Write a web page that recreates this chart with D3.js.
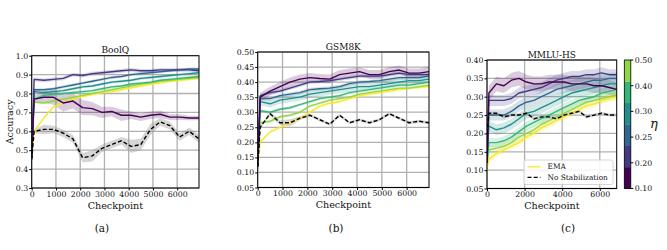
<!DOCTYPE html>
<html><head><meta charset="utf-8">
<script src="https://cdn.jsdelivr.net/npm/d3@7"></script>
<style>body{margin:0;background:#fff}svg{display:block}text{font-family:"DejaVu Serif",serif;fill:#111}</style>
</head><body><svg id="c" width="667" height="250"></svg>
<script>
const checkpoints = [0,100,500,900,1300,1700,2100,2500,2900,3300,3700,4100,4500,4900,5300,5700,6100,6500,6900];
const etaLabels = ["0.10","0.20","0.25","0.30","0.40","0.50"];
const etaColors = ["#440154","#433a83","#31688e","#21908c","#35b779","#8fd744"];
const emaColor = "#fde725";

// BoolQ
const boolqEta = [
  [0.46,0.77,0.78,0.78,0.75,0.76,0.725,0.72,0.70,0.705,0.685,0.685,0.675,0.685,0.69,0.675,0.675,0.67,0.67],
  [0.46,0.875,0.87,0.875,0.88,0.90,0.895,0.905,0.91,0.915,0.92,0.925,0.92,0.92,0.925,0.925,0.925,0.925,0.92],
  [0.46,0.82,0.82,0.825,0.835,0.845,0.855,0.865,0.875,0.885,0.89,0.90,0.905,0.91,0.915,0.92,0.925,0.93,0.93],
  [0.46,0.81,0.805,0.81,0.815,0.825,0.835,0.84,0.85,0.86,0.865,0.87,0.88,0.885,0.89,0.895,0.90,0.905,0.91],
  [0.46,0.77,0.79,0.795,0.80,0.805,0.81,0.815,0.825,0.835,0.84,0.85,0.855,0.86,0.87,0.875,0.88,0.885,0.89],
  [0.46,0.755,0.75,0.76,0.77,0.78,0.79,0.80,0.81,0.82,0.83,0.84,0.85,0.855,0.865,0.87,0.875,0.88,0.885]
];
const boolqEma = [0.46,0.60,0.67,0.73,0.75,0.77,0.785,0.795,0.805,0.81,0.82,0.83,0.84,0.85,0.855,0.865,0.87,0.875,0.88];
const boolqNone = [0.45,0.60,0.61,0.61,0.59,0.56,0.46,0.47,0.51,0.53,0.55,0.52,0.53,0.61,0.65,0.63,0.57,0.60,0.56];
const boolqEtaBand = [
  [0,0.02,0.03,0.04,0.045,0.04,0.04,0.035,0.03,0.025,0.03,0.02,0.02,0.02,0.02,0.015,0.015,0.012,0.012],
  0.01,0.008,0.008,0.008,0.008
];
const boolqEmaBand = 0.008;
const boolqNoneBand = [0,0.01,0.025,0.02,0.02,0.02,0.025,0.03,0.02,0.02,0.02,0.035,0.03,0.03,0.02,0.02,0.02,0.02,0.02];

// GSM8K
const gsmEta = [
  [0.12,0.35,0.37,0.385,0.40,0.41,0.415,0.412,0.41,0.425,0.43,0.435,0.425,0.425,0.435,0.44,0.43,0.43,0.435],
  [0.12,0.355,0.365,0.37,0.38,0.39,0.40,0.402,0.405,0.41,0.415,0.42,0.42,0.42,0.425,0.43,0.425,0.425,0.425],
  [0.12,0.345,0.345,0.355,0.36,0.365,0.375,0.378,0.38,0.385,0.395,0.40,0.402,0.405,0.41,0.415,0.415,0.415,0.42],
  [0.12,0.335,0.328,0.34,0.345,0.35,0.36,0.365,0.37,0.375,0.38,0.385,0.385,0.39,0.395,0.40,0.405,0.405,0.41],
  [0.12,0.305,0.30,0.31,0.315,0.325,0.335,0.345,0.35,0.355,0.365,0.37,0.375,0.38,0.385,0.39,0.39,0.395,0.40],
  [0.12,0.265,0.27,0.285,0.29,0.30,0.32,0.33,0.34,0.345,0.35,0.36,0.365,0.37,0.375,0.38,0.38,0.385,0.39]
];
const gsmEma = [0.12,0.20,0.235,0.25,0.265,0.28,0.30,0.32,0.33,0.335,0.345,0.355,0.36,0.365,0.37,0.375,0.38,0.383,0.385];
const gsmNone = [0.12,0.25,0.295,0.265,0.265,0.28,0.29,0.275,0.26,0.29,0.265,0.275,0.265,0.275,0.295,0.28,0.265,0.27,0.265];
const gsmEtaBand = [0.015,0.006,0.006,0.012,0.005,0.005];
const gsmEmaBand = 0.005;
const gsmNoneBand = [0,0.005,0.006,0.008,0.012,0.006,0.005,0.005,0.005,0.005,0.005,0.005,0.005,0.005,0.005,0.005,0.005,0.005,0.005];

// MMLU-HS
const mmluEta = [
  [0.12,0.31,0.335,0.33,0.345,0.35,0.34,0.335,0.335,0.34,0.34,0.34,0.335,0.335,0.335,0.33,0.33,0.325,0.32],
  [0.12,0.29,0.29,0.29,0.295,0.31,0.315,0.32,0.325,0.335,0.345,0.35,0.355,0.355,0.36,0.36,0.365,0.36,0.36],
  [0.12,0.25,0.25,0.25,0.26,0.275,0.285,0.29,0.30,0.31,0.32,0.325,0.33,0.335,0.34,0.345,0.345,0.35,0.35],
  [0.12,0.22,0.21,0.215,0.225,0.24,0.255,0.26,0.27,0.28,0.29,0.30,0.31,0.315,0.32,0.325,0.33,0.335,0.335],
  [0.12,0.175,0.175,0.18,0.19,0.205,0.22,0.23,0.24,0.25,0.26,0.27,0.28,0.29,0.295,0.30,0.31,0.315,0.32],
  [0.12,0.155,0.16,0.165,0.175,0.19,0.20,0.21,0.225,0.235,0.245,0.255,0.265,0.275,0.285,0.29,0.295,0.30,0.305]
];
const mmluEma = [0.105,0.13,0.145,0.155,0.165,0.175,0.19,0.20,0.215,0.225,0.235,0.245,0.255,0.265,0.275,0.28,0.29,0.295,0.30];
const mmluNone = [0.20,0.255,0.255,0.245,0.25,0.25,0.255,0.24,0.245,0.245,0.24,0.25,0.255,0.26,0.245,0.25,0.255,0.25,0.25];
const mmluEtaBand = [0.02,0.015,0.015,0.015,0.012,0.012];
const mmluEmaBand = 0.01;
const mmluNoneBand = 0.004;

const panels = [
  {title:"BoolQ", cap:"(a)", eta:boolqEta, ema:boolqEma, none:boolqNone, etaBand:boolqEtaBand, emaBand:boolqEmaBand, noneBand:boolqNoneBand,
   yDom:[0.3,1.0], yTicks:[0.3,0.4,0.5,0.6,0.7,0.8,0.9,1.0], yFmt:".1f", xTicks:[0,1000,2000,3000,4000,5000,6000],
   box:{l:31.7,r:199,t:55.7,b:188}, ylabel:true, capX:102},
  {title:"GSM8K", cap:"(b)", eta:gsmEta, ema:gsmEma, none:gsmNone, etaBand:gsmEtaBand, emaBand:gsmEmaBand, noneBand:gsmNoneBand,
   yDom:[0.05,0.5], yTicks:[0.05,0.1,0.15,0.2,0.25,0.3,0.35,0.4,0.45,0.5], yFmt:".2f", xTicks:[0,1000,2000,3000,4000,5000,6000],
   box:{l:257.7,r:429,t:52,b:187.5}, capX:336},
  {title:"MMLU-HS", cap:"(c)", eta:mmluEta, ema:mmluEma, none:mmluNone, etaBand:mmluEtaBand, emaBand:mmluEmaBand, noneBand:mmluNoneBand,
   yDom:[0.05,0.4], yTicks:[0.05,0.1,0.15,0.2,0.25,0.3,0.35,0.4], yFmt:".2f", xTicks:[0,2000,4000,6000],
   box:{l:487,r:616.7,t:60,b:188.5}, legend:true, colorbar:true, capX:568}
];

const svg = d3.select("#c");
const bandOf = (b,i)=> Array.isArray(b) ? b[i] : b;

panels.forEach(p=>{
  const x = d3.scaleLinear().domain([0,6900]).range([p.box.l,p.box.r]);
  const y = d3.scaleLinear().domain(p.yDom).range([p.box.b,p.box.t]);
  const g = svg.append("g");
  g.append("g").selectAll("line").data(p.xTicks).join("line")
    .attr("x1",d=>x(d)).attr("x2",d=>x(d)).attr("y1",p.box.t).attr("y2",p.box.b)
    .attr("stroke","#b0b0b0").attr("stroke-width",1.3);
  g.append("g").selectAll("line").data(p.yTicks).join("line")
    .attr("x1",p.box.l).attr("x2",p.box.r).attr("y1",d=>y(d)).attr("y2",d=>y(d))
    .attr("stroke","#b0b0b0").attr("stroke-width",1.3);

  const clipId = "clip"+p.cap.replace(/\W/g,"");
  svg.append("clipPath").attr("id",clipId).append("rect")
    .attr("x",p.box.l).attr("y",p.box.t).attr("width",p.box.r-p.box.l).attr("height",p.box.b-p.box.t);
  const pg = g.append("g").attr("clip-path",`url(#${clipId})`);

  const line = d3.line().x((d,i)=>x(checkpoints[i])).y(d=>y(d));
  const area = (vals,band)=> d3.area().x((d,i)=>x(checkpoints[i]))
      .y0((d,i)=>y(d-bandOf(band,i))).y1((d,i)=>y(d+bandOf(band,i)))(vals);

  const series = [];
  p.eta.forEach((v,k)=>series.push({v, band:p.etaBand[k], color:etaColors[k], dash:null}));
  series.push({v:p.ema, band:p.emaBand, color:emaColor, dash:null});
  series.push({v:p.none, band:p.noneBand, color:"#000", dash:"4,2.2", bandColor:"#999"});

  series.forEach(s=>{
    pg.append("path").attr("d",area(s.v,s.band))
      .attr("fill",s.bandColor||s.color).attr("fill-opacity",s.bandColor?0.4:0.2).attr("stroke","none");
  });
  const order = [6,5,4,3,2,1,0,7];
  order.forEach(k=>{
    const s = series[k];
    pg.append("path").attr("d",line(s.v)).attr("fill","none")
      .attr("stroke",s.color).attr("stroke-width",1.4)
      .attr("stroke-dasharray",s.dash).attr("stroke-linejoin","round");
  });

  g.append("rect").attr("x",p.box.l).attr("y",p.box.t).attr("width",p.box.r-p.box.l).attr("height",p.box.b-p.box.t)
    .attr("fill","none").attr("stroke","#000").attr("stroke-width",1);

  const ax = d3.axisBottom(x).tickValues(p.xTicks).tickSize(2.5).tickFormat(d3.format("d"));
  const ay = d3.axisLeft(y).tickValues(p.yTicks).tickSize(2.5).tickFormat(d3.format(p.yFmt));
  const gx = g.append("g").attr("transform",`translate(0,${p.box.b})`).call(ax);
  const gy = g.append("g").attr("transform",`translate(${p.box.l},0)`).call(ay);
  [gx,gy].forEach(a=>{
    a.select(".domain").remove();
    a.selectAll("text").style("font-family","'DejaVu Serif',serif").style("font-size","7.8px").attr("fill","#111");
    a.selectAll("line").attr("stroke","#000");
  });
  gx.selectAll("text").attr("dy","0.71em").attr("y",3);
  gy.selectAll("text").attr("x",-3.5);

  g.append("text").attr("x",(p.box.l+p.box.r)/2).attr("y",p.box.t-2.5).attr("text-anchor","middle")
    .style("font-size","9px").text(p.title);
  g.append("text").attr("x",(p.box.l+p.box.r)/2).attr("y",p.box.b+20.5).attr("text-anchor","middle")
    .style("font-size","9.6px").text("Checkpoint");
  if(p.ylabel){
    g.append("text").attr("transform",`translate(13,${(p.box.t+p.box.b)/2}) rotate(-90)`)
      .attr("text-anchor","middle").style("font-size","9.6px").text("Accuracy");
  }
  g.append("text").attr("x",p.capX).attr("y",232).attr("text-anchor","middle")
    .style("font-size","10.5px").text(p.cap);

  if(p.legend){
    const lg = g.append("g");
    const lx = 524, ly = 160;
    lg.append("rect").attr("x",lx).attr("y",ly).attr("width",89).attr("height",24.5).attr("rx",2)
      .attr("fill","#fff").attr("fill-opacity",0.85).attr("stroke","#ccc").attr("stroke-width",0.8);
    const items = [{t:"EMA",c:emaColor,d:null},{t:"No Stabilization",c:"#000",d:"4,2.2"}];
    items.forEach((it,i)=>{
      const yy = ly+6.8+i*10.6;
      lg.append("line").attr("x1",lx+3.5).attr("x2",lx+16.5).attr("y1",yy).attr("y2",yy)
        .attr("stroke",it.c).attr("stroke-width",1.3).attr("stroke-dasharray",it.d);
      lg.append("text").attr("x",lx+23.5).attr("y",yy+2.6).style("font-size","7.4px").text(it.t);
    });
  }
  if(p.colorbar){
    const cx = 624.3, cw = 6.5;
    const cy = d3.scaleLinear().domain([0,etaLabels.length-1]).range([p.box.b,p.box.t]);
    const nb = etaColors.length;
    const binH = (p.box.b-p.box.t)/nb;
    g.append("g").selectAll("rect").data(etaColors).join("rect")
      .attr("x",cx).attr("width",cw).attr("y",(d,i)=>p.box.b-(i+1)*binH).attr("height",binH+0.3)
      .attr("fill",d=>d);
    g.append("rect").attr("x",cx).attr("y",p.box.t).attr("width",cw).attr("height",p.box.b-p.box.t)
      .attr("fill","none").attr("stroke","#000").attr("stroke-width",0.8);
    const cg = g.append("g");
    etaLabels.forEach((lab,i)=>{
      cg.append("line").attr("x1",cx+cw).attr("x2",cx+cw+2.5).attr("y1",cy(i)).attr("y2",cy(i)).attr("stroke","#000");
      cg.append("text").attr("x",cx+cw+4).attr("y",cy(i)+2.8).style("font-size","7.8px").text(lab);
    });
    g.append("text").attr("x",654).attr("y",(p.box.t+p.box.b)/2+4).attr("text-anchor","middle")
      .style("font-size","13px").style("font-style","italic").text("η");
  }
});
</script></body></html>
